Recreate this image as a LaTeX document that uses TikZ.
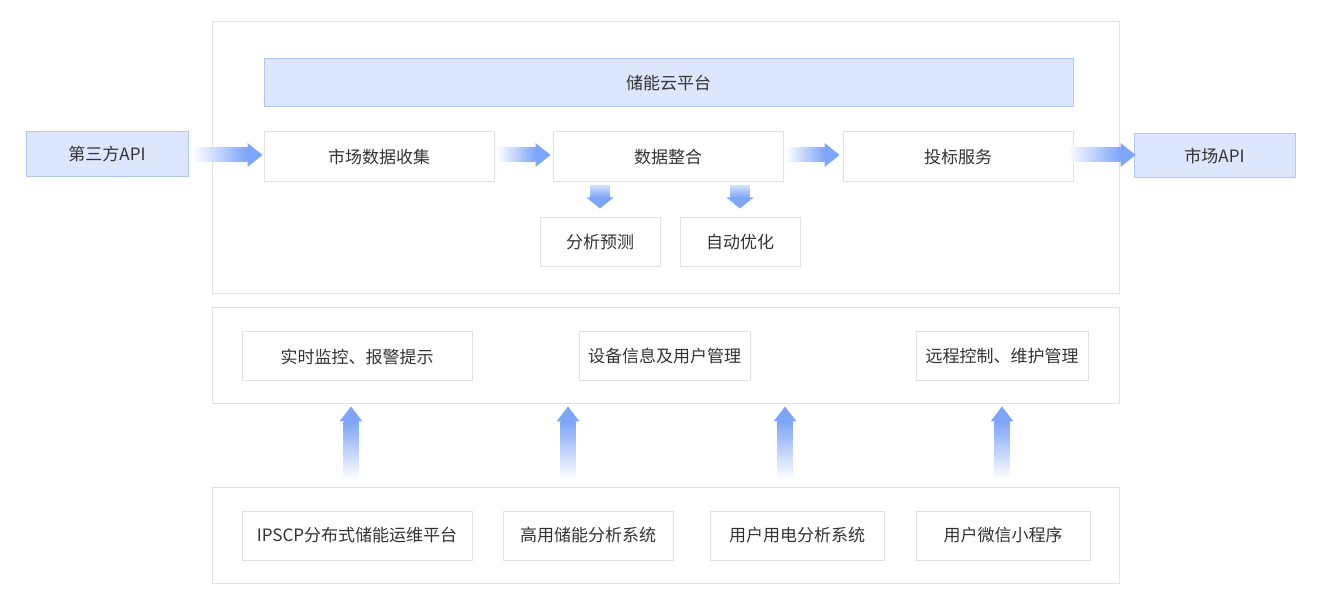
\documentclass[tikz,border=0pt]{standalone}
\usepackage{fontspec}
\setmainfont{Noto Sans CJK SC}
\usetikzlibrary{calc}
\definecolor{ablue}{HTML}{7DA5F8}
\definecolor{bfill}{HTML}{DCE6FC}
\definecolor{bline}{HTML}{AFC8F8}
\definecolor{gline}{HTML}{E2E2E2}
\definecolor{txt}{HTML}{333333}
\tikzset{
  wbox/.style={draw=gline, line width=1pt, fill=white, inner sep=0pt, text=txt, font=\fontsize{17}{20}\selectfont},
  bbox/.style={wbox, draw=bline, fill=bfill},
  frame/.style={draw=gline, line width=1pt, inner sep=0pt},
}
\newcommand\harrow[4]{%
  \shade[left color=white, right color=ablue] let \p1=($(#1.east)+(#3,0)$), \p2=($(#2.west)+(#4,0)$) in (\x1,-148) rectangle (\x2-15pt,-162);
  \fill[ablue] let \p2=($(#2.west)+(#4,0)$) in (\x2-15pt,-143) -- (\x2,-155) -- (\x2-15pt,-167) -- cycle;}
\newcommand\darrow[2]{%
  \shade[top color=ablue!35, bottom color=ablue] let \p1=($(#1.south)+(0,-3)$) in (#2-9.5,\y1) rectangle (#2+9.5,\y1-12pt);
  \fill[ablue] let \p1=($(#1.south)+(0,-15)$) in (#2-13.5,\y1) -- (#2,\y1-11pt) -- (#2+13.5,\y1) -- cycle;}
\newcommand\uarrow[3]{%
  \shade[bottom color=white, top color=ablue] let \p1=($(#1.north)+(0,7)$), \p2=($(#2.south)+(0,-2)$) in (#3-7.5,\y1) rectangle (#3+7.5,\y2-15pt);
  \fill[ablue] let \p2=($(#2.south)+(0,-2)$) in (#3-11.5,\y2-15pt) -- (#3,\y2) -- (#3+11.5,\y2-15pt) -- cycle;}
\begin{document}
\begin{tikzpicture}[x=1pt,y=1pt]
\useasboundingbox[fill=white] (0,0) rectangle (1320,-609);
% containers
\node[frame, minimum width=907pt, minimum height=272pt] (top) at (665.5,-158) {};
\node[frame, minimum width=907pt, minimum height=96pt] (mid) at (665.5,-356) {};
\node[frame, minimum width=907pt, minimum height=96pt] (bot) at (665.5,-535) {};
% top section
\node[bbox, minimum width=809pt, minimum height=48pt] (hdr) at (668.5,-83) {储能云平台};
\node[bbox, minimum width=162pt, minimum height=45pt] (api3) at (107,-154.5) {第三方API};
\node[wbox, minimum width=230pt, minimum height=50pt] (sc) at (379,-157) {市场数据收集};
\node[wbox, minimum width=230pt, minimum height=50pt] (sj) at (668,-157) {数据整合};
\node[wbox, minimum width=230pt, minimum height=50pt] (tb) at (958,-157) {投标服务};
\node[bbox, minimum width=161pt, minimum height=44pt] (mapi) at (1214.5,-156) {市场API};
\node[wbox, minimum width=120pt, minimum height=49pt] (fx) at (600,-242.5) {分析预测};
\node[wbox, minimum width=120pt, minimum height=49pt] (zd) at (740,-242.5) {自动优化};
% middle section
\node[wbox, minimum width=230pt, minimum height=49pt] (ss) at (357,-356.5) {实时监控、报警提示};
\node[wbox, minimum width=171pt, minimum height=49pt] (sb) at (664.5,-356.5) {设备信息及用户管理};
\node[wbox, minimum width=172pt, minimum height=49pt] (yc) at (1002,-356.5) {远程控制、维护管理};
% bottom section
\node[wbox, minimum width=230pt, minimum height=49pt] (ip) at (357,-535.5) {IPSCP分布式储能运维平台};
\node[wbox, minimum width=170pt, minimum height=49pt] (gy) at (588,-535.5) {高用储能分析系统};
\node[wbox, minimum width=174pt, minimum height=49pt] (yh) at (797,-535.5) {用户用电分析系统};
\node[wbox, minimum width=174pt, minimum height=49pt] (wx) at (1003,-535.5) {用户微信小程序};
% arrows
\harrow{api3}{sc}{4}{-1}
\harrow{sc}{sj}{2}{-2}
\harrow{sj}{tb}{2}{-3}
\harrow{tb}{mapi}{-6}{2}
\darrow{sj}{600}
\darrow{sj}{740}
\uarrow{bot}{mid}{351}
\uarrow{bot}{mid}{568}
\uarrow{bot}{mid}{785}
\uarrow{bot}{mid}{1002}
\end{tikzpicture}
\end{document}
